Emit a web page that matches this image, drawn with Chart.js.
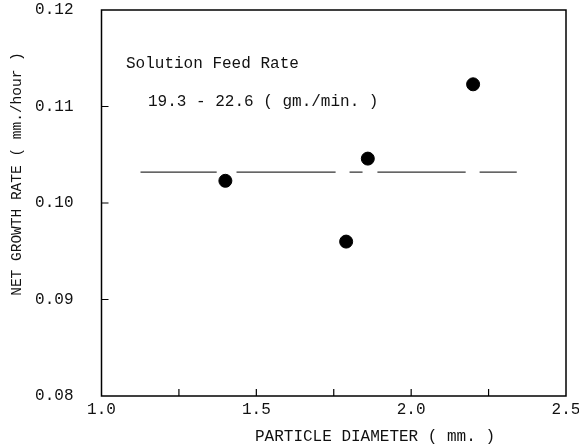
<!DOCTYPE html>
<html>
<head>
<meta charset="utf-8">
<script src="https://cdn.jsdelivr.net/npm/chart.js@4/dist/chart.umd.min.js"></script>
<style>
  html, body { margin: 0; padding: 0; background: #fff; }
  #contenedor { width: 579px; height: 448px; }
</style>
</head>
<body>
<div id="contenedor"><canvas id="grafico"></canvas></div>
<script>
// datos
const diametro = [1.40, 1.79, 1.86, 2.20]
const tasa = [0.1023, 0.0960, 0.1046, 0.1123]

// linea horizontal cortada (tramos)
const tramo_inicio = [1.126, 1.436, 1.801, 1.891, 2.221]
const tramo_fin = [1.372, 1.756, 1.843, 2.176, 2.341]
const tasa_media = 0.1032

const ticks_y = [0.08, 0.09, 0.10, 0.11, 0.12]
const ticks_x = [1.0, 1.5, 2.0, 2.5]
const marcas_x = [1.25, 1.5, 1.75, 2.0, 2.25]
const marcas_y = [0.09, 0.10, 0.11]

const titulo_x = 'PARTICLE DIAMETER ( mm. )'
const titulo_y = 'NET GROWTH RATE ( mm./hour )'
const nota_1 = 'Solution Feed Rate'
const nota_2 = '19.3 - 22.6 ( gm./min. )'

const fuente = '"Liberation Mono", "DejaVu Sans Mono", monospace'

function armar_linea() {
    let puntos = []
    for (let i = 0; i < tramo_inicio.length; i++) {
        if (i > 0) puntos.push({ x: (tramo_fin[i - 1] + tramo_inicio[i]) / 2, y: null })
        puntos.push({ x: tramo_inicio[i], y: tasa_media })
        puntos.push({ x: tramo_fin[i], y: tasa_media })
    }
    return puntos
}

const marco = {
    id: 'marco',
    afterDraw(chart) {
        const { ctx, chartArea: a, scales } = chart
        ctx.save()
        ctx.strokeStyle = '#000'
        ctx.lineWidth = 1.5
        ctx.strokeRect(a.left, a.top, a.right - a.left, a.bottom - a.top)
        ctx.beginPath()
        for (let v of marcas_x) {
            const px = scales.x.getPixelForValue(v)
            ctx.moveTo(px, a.bottom)
            ctx.lineTo(px, a.bottom - 7)
        }
        for (let v of marcas_y) {
            const py = scales.y.getPixelForValue(v)
            ctx.moveTo(a.left, py)
            ctx.lineTo(a.left + 7, py)
        }
        ctx.lineWidth = 1.2
        ctx.stroke()

        ctx.fillStyle = '#111'
        ctx.textBaseline = 'middle'
        ctx.font = '16px ' + fuente
        ctx.textAlign = 'left'
        ctx.fillText(nota_1, 126, 64)
        ctx.fillText(nota_2, 148, 102)
        ctx.textAlign = 'center'
        ctx.fillText(titulo_x, 375, 437)

        ctx.translate(17, 174)
        ctx.rotate(-Math.PI / 2)
        ctx.font = '14.5px ' + fuente
        ctx.fillText(titulo_y, 0, 0)
        ctx.restore()
    }
}

function dibujar_grafico() {
    const grafico = document.querySelector('#grafico')
    new Chart(grafico, {
        type: 'scatter',
        data: {
            datasets: [
                {
                    label: 'linea',
                    type: 'line',
                    data: armar_linea(),
                    borderColor: '#333',
                    borderWidth: 1.3,
                    pointRadius: 0,
                    spanGaps: false,
                    fill: false,
                },
                {
                    label: 'puntos',
                    data: diametro.map((d, i) => ({ x: d, y: tasa[i] })),
                    backgroundColor: '#000',
                    borderColor: '#000',
                    pointRadius: 6.5,
                }
            ]
        },
        options: {
            responsive: true,
            maintainAspectRatio: false,
            animation: false,
            layout: { padding: { left: 0, top: 10, right: 13, bottom: 0 } },
            plugins: {
                legend: { display: false },
                tooltip: { enabled: false },
            },
            scales: {
                x: {
                    type: 'linear',
                    min: 1.0,
                    max: 2.5,
                    afterBuildTicks: (eje) => { eje.ticks = ticks_x.map(v => ({ value: v })) },
                    afterFit: (eje) => {
                        eje.height = 52
                        eje.paddingLeft = 0
                        eje.paddingRight = 0
                    },
                    grid: { display: false, drawTicks: false },
                    border: { display: false },
                    ticks: {
                        padding: 4,
                        color: '#111',
                        font: { family: fuente, size: 16 },
                        callback: (v) => v.toFixed(1),
                    },
                },
                y: {
                    type: 'linear',
                    min: 0.08,
                    max: 0.12,
                    afterBuildTicks: (eje) => { eje.ticks = ticks_y.map(v => ({ value: v })) },
                    afterFit: (eje) => {
                        eje.width = 101.5
                        eje.paddingTop = 0
                        eje.paddingBottom = 0
                    },
                    grid: { display: false, drawTicks: false },
                    border: { display: false },
                    ticks: {
                        padding: 28,
                        color: '#111',
                        font: { family: fuente, size: 16 },
                        callback: (v) => v.toFixed(2),
                    },
                },
            },
        },
        plugins: [marco],
    })
}

dibujar_grafico()
</script>
</body>
</html>
